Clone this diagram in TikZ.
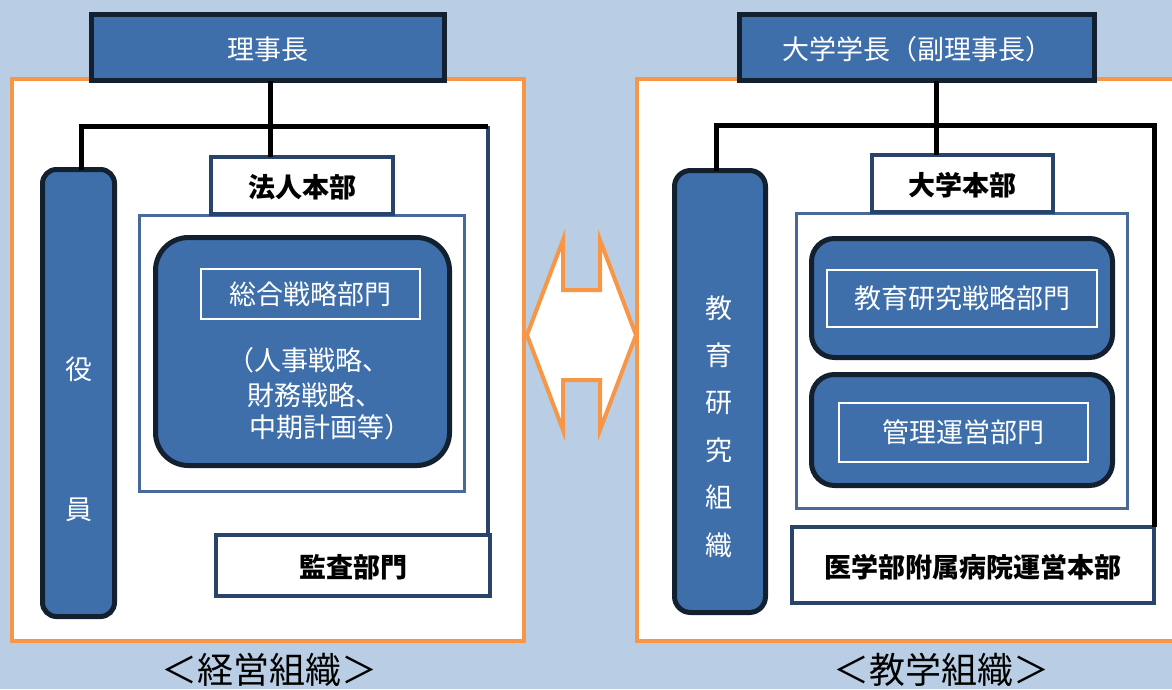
\documentclass[tikz,border=0pt]{standalone}
\usepackage{fontspec}
\setmainfont{Noto Sans CJK JP}
\definecolor{bg}{HTML}{B9CDE5}
\definecolor{boxblue}{HTML}{3E6FAB}
\definecolor{darkb}{HTML}{13202F}
\definecolor{navy}{HTML}{28446A}
\definecolor{contb}{HTML}{48699A}
\definecolor{orng}{HTML}{F79646}
\newcommand\mylbl{\fontsize{27}{32}\selectfont}
\newcommand\mycap{\fontsize{36}{40}\selectfont}
\begin{document}
\begin{tikzpicture}[x=1pt,y=-1pt,
  every node/.style={inner sep=0pt, outer sep=0pt},
  lowtext/.style={text height=24pt, text depth=-2pt},
  headbox/.style={draw=darkb, line width=5pt, fill=boxblue, text=white, font=\mylbl, lowtext},
  hqbox/.style={draw=navy, line width=4pt, fill=white, font=\mylbl\bfseries, lowtext},
  containerbox/.style={draw=contb, line width=3pt, fill=white},
  roundbox/.style={draw=darkb, line width=5pt, fill=boxblue, rounded corners=#1},
  innerbox/.style={draw=white, line width=1.5pt, text=white, font=\mylbl},
  whitetext/.style={text=white, font=\mylbl},
  conn/.style={line width=5pt, draw=black},
  sideconn/.style={line width=3.5pt, draw=navy},
  orangebox/.style={draw=orng, line width=4pt, fill=white},
  captext/.style={font=\mycap, text=black}
]
\useasboundingbox (0,0) rectangle (1172,689);
\fill[bg] (0,0) rectangle (1172,689);
\begin{scope}
\clip (0,0) rectangle (1172,689);

% ---------- left panel ----------
\node[orangebox, minimum width=512pt, minimum height=562pt] (orgL) at (268,360) {};
\coordinate (jL) at (81,126);
\coordinate (jM) at (270,126);
\coordinate (jR) at (488,126);

\node[roundbox=14pt, minimum width=72pt, minimum height=447pt] (yakuin) at (78.5,393) {};
\node[whitetext] (yaku1) at (79,369) {役};
\node[whitetext] (yaku2) at (79,510) {員};

\node[containerbox, minimum width=325pt, minimum height=276pt] (contL) at (302,353.5) {};
\node[roundbox=33pt, minimum width=294pt, minimum height=228pt] (sougou) at (302.5,351.5) {};
\node[innerbox, minimum width=219pt, minimum height=50pt] (sougouT) at (310.5,294) {総合戦略部門};
\node[whitetext, anchor=west] (p1) at (227,360) {（人事戦略、};
\node[whitetext, anchor=west] (p2) at (247,395) {財務戦略、};
\node[whitetext, anchor=west] (p3) at (249,427) {中期計画等）};

\node[hqbox, minimum width=182pt, minimum height=57pt] (houjin) at (302,185.5) {法人本部};
\node[hqbox, minimum width=274pt, minimum height=61pt, text depth=-7pt] (kansa) at (353,565.5) {監査部門};

\draw[sideconn] (jR) -- (kansa.north -| jR);
\draw[conn] (yakuin.north -| jL) |- (jR);
\node[headbox, minimum width=353pt, minimum height=66pt] (rj) at (268,47.5) {理事長};
\draw[conn] (rj.south -| jM) -- (houjin.north -| jM);

% ---------- right panel ----------
\node[orangebox, minimum width=548pt, minimum height=562pt] (orgR) at (911,360) {};
\coordinate (kL) at (716,125);
\coordinate (kM) at (936,125);
\coordinate (kR) at (1154,125);

\node[roundbox=16pt, minimum width=91pt, minimum height=442pt] (kyouiku) at (720,391.5) {};
\foreach \c [count=\i from 0] in {教,育,研,究,組,織}
  \node[whitetext] (kv\i) at (719,{308+47.4*\i}) {\c};

\node[containerbox, minimum width=331pt, minimum height=295pt] (contR) at (962,361) {};
\node[roundbox=23pt, minimum width=301pt, minimum height=119pt] (kk1) at (962,298) {};
\node[innerbox, minimum width=270pt, minimum height=57pt] (kk1T) at (962,298.5) {教育研究戦略部門};
\node[roundbox=23pt, minimum width=301pt, minimum height=111pt] (kk2) at (962,430) {};
\node[innerbox, minimum width=249pt, minimum height=59pt] (kk2T) at (963.5,432.5) {管理運営部門};

\node[hqbox, minimum width=181pt, minimum height=57pt, text depth=-4pt] (daigaku) at (962.5,183.5) {大学本部};
\node[hqbox, minimum width=362pt, minimum height=76pt, text depth=-7pt] (igaku) at (973,565) {医学部附属病院運営本部};

\draw[conn] (kyouiku.north -| kL) |- (kR) -- (igaku.north -| kR);
\node[headbox, minimum width=355pt, minimum height=66pt] (gk) at (917,47.5) {大学学長（副理事長）};
\draw[conn] (gk.south -| kM) -- (daigaku.north -| kM);

% ---------- double arrow between panels ----------
\draw[draw=orng, fill=white, line width=4pt, line join=miter]
  (527,335) -- (563,240) -- (563,290) -- (600,290) -- (600,240) -- (636,335)
  -- (600,430) -- (600,380) -- (563,380) -- (563,430) -- cycle;

% ---------- captions ----------
\node[captext] (capL) at (269,670) {＜経営組織＞};
\node[captext] (capR) at (941,670) {＜教学組織＞};
\end{scope}
\end{tikzpicture}
\end{document}
